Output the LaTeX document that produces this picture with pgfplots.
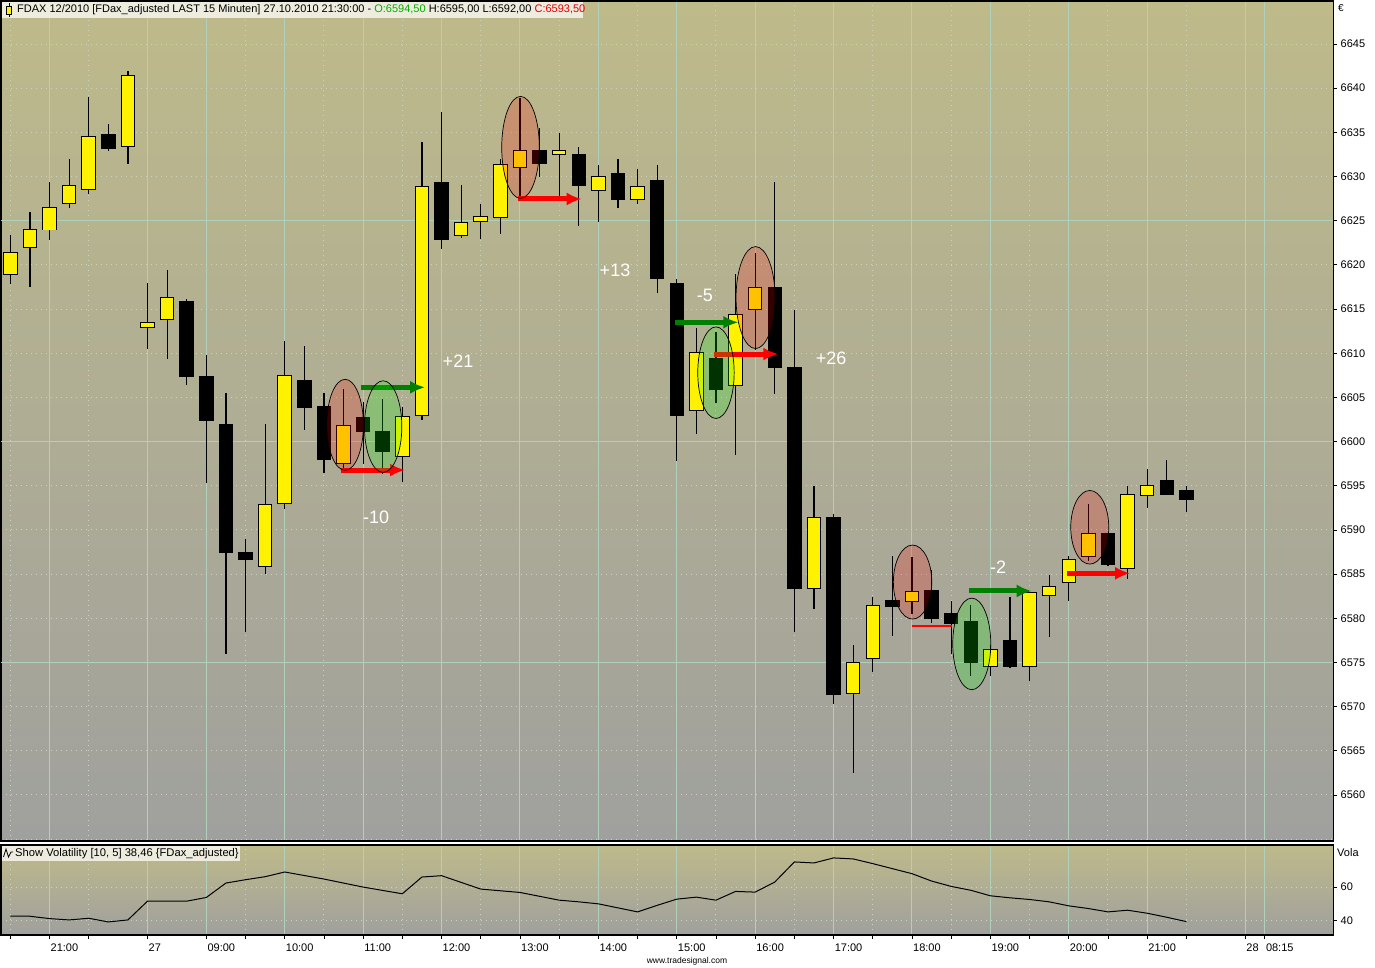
\documentclass[border=0pt]{standalone}
\usepackage{pgfplots}
\pgfplotsset{compat=1.18}
\usepackage{pgfplotstable}
\usepackage{fontspec}
\setmainfont{Liberation Sans}
\usetikzlibrary{arrows.meta}

\definecolor{bgtop}{RGB}{190,186,138}
\definecolor{bgbot}{RGB}{160,160,158}
\definecolor{gridc}{RGB}{176,208,188}
\definecolor{dotc}{RGB}{200,212,192}
\definecolor{hdrbg}{RGB}{238,236,222}
\definecolor{arrgreen}{RGB}{0,128,0}
\definecolor{hdrgreen}{RGB}{0,176,0}
\definecolor{hdrred}{RGB}{230,0,0}

\newcommand\fs[1]{\fontsize{#1}{#1}\selectfont}

% 15 min candles, index 0 = 20:30 on 26.10.
\pgfplotstableread{
i o h l c
0 6619 6623.5 6618 6621.5
1 6622 6626 6617.5 6624
2 6624 6629.5 6623 6626.5
3 6627 6632 6626.5 6629
4 6628.5 6639 6628 6634.5
5 6635 6636 6633 6633.4
6 6633.5 6642 6631.5 6641.5
7 6613 6618 6610.5 6613.6
8 6614 6619.5 6609.5 6616.5
9 6616 6616.2 6606.5 6607.5
10 6607.5 6610 6595.5 6602.5
11 6602 6605.5 6576 6587.5
12 6587.5 6589 6578.5 6586.7
13 6586 6602 6585 6593
14 6593 6611.5 6592.5 6607.5
15 6607 6611 6601.5 6604
16 6604 6605.5 6596.5 6598
17 6597.7 6606 6597 6602
18 6602.7 6604.5 6597.5 6601.1
19 6601.2 6605 6596.5 6599
20 6598.5 6604 6595.5 6603
21 6603 6634 6602.5 6629
22 6629.5 6637.5 6622 6623
23 6623.5 6629 6623 6625
24 6625 6627 6623 6625.5
25 6625.5 6632 6623.5 6631.5
26 6631 6639 6627.5 6633
27 6633 6635.5 6630 6631.5
28 6632.5 6635 6627.5 6633
29 6632.5 6633.5 6624.5 6629
30 6628.5 6631.5 6625 6630
31 6630.5 6632 6626.5 6627.5
32 6627.5 6631 6627 6629
33 6629.5 6631.5 6617 6618.5
34 6618 6618.5 6598 6603
35 6603.5 6613 6601 6610
36 6609.5 6612.5 6604.5 6606
37 6606.5 6619 6598.5 6614.5
38 6615 6621.5 6610.5 6617.5
39 6617.5 6629.5 6605.5 6608.5
40 6608.5 6615 6578.5 6583.5
41 6583.5 6595 6581 6591.5
42 6591.5 6592 6570.5 6571.5
43 6571.5 6577 6562.5 6575
44 6575.5 6582.5 6574 6581.5
45 6582.2 6587 6578 6581.5
46 6582 6587 6580.5 6583.1
47 6583.2 6585.5 6579.5 6580
48 6580.7 6582 6576 6579.6
49 6579.7 6581.5 6573.5 6575
50 6574.6 6577 6573.5 6576.6
51 6577.5 6582.5 6574.5 6574.6
52 6574.6 6583.1 6573 6583
53 6582.6 6585 6578 6583.6
54 6584.1 6587 6582 6586.7
55 6587.1 6593 6586.5 6589.6
56 6589.6 6589.8 6586 6586.1
57 6585.7 6595 6584.5 6594.1
58 6594.1 6597 6592.5 6595.2
59 6595.6 6598 6594 6594.1
60 6594.5 6595 6592 6593.5
}\candles

\pgfplotstableread{
i v
0 42.6
1 42.6
2 41.2
3 40.4
4 41.4
5 39.2
6 40.4
7 51.6
8 51.6
9 51.6
10 53.8
11 62.4
12 64.4
13 66.2
14 69.0
15 66.9
16 64.8
17 62.4
18 60.0
19 58.0
20 56.0
21 66.0
22 66.8
23 62.8
24 58.8
25 57.8
26 56.8
27 54.5
28 52.2
29 51.2
30 50.0
31 47.6
32 45.2
33 49.1
34 52.8
35 54.0
36 52.2
37 57.4
38 57.0
39 63.0
40 75.0
41 74.4
42 77.4
43 76.8
44 74.0
45 71.0
46 68.0
47 63.6
48 60.4
49 58.1
50 54.8
51 53.6
52 52.6
53 51.2
54 48.8
55 47.2
56 45.2
57 46.2
58 44.4
59 42.0
60 39.4
}\vola

\pgfplotsset{
  panel/.style={
    scale only axis, width=1332pt,
    xmin=-0.4745, xmax=67.485,
    axis background/.style={shade, top color=bgtop, bottom color=bgbot},
    axis line style={black, line width=1.2pt},
    tick align=outside, major tick length=4pt,
    tick style={black, line width=0.8pt},
    xtick={2,7,10,14,18,22,26,30,34,38,42,46,50,54,58,63,64},
    minor xtick={0,4,12,16,20,24,28,32,36,40,44,48,52,56,60},
    xmajorgrids, xminorgrids, yminorgrids,
    major grid style={gridc, solid, line width=1pt},
    minor grid style={dotc, line width=1pt, dash pattern=on 1pt off 4pt},
    ytick pos=right, yticklabel pos=right, xtick pos=bottom,
    ticklabel style={font=\fs{11}, black},
    /pgf/number format/assume math mode=true,
    /pgf/number format/1000 sep={},
  },
  candle/.style={draw=none, mark=none, forget plot,
    error bars/.cd, y dir=both, y explicit, error mark=none},
}

\begin{document}
\begin{tikzpicture}[x=1pt,y=1pt]
\path[use as bounding box] (0,0) rectangle (1375,-967);
\fill[white] (0,0) rectangle (1375,-967);

% price panel
\begin{axis}[panel, at={(1pt,-1pt)}, anchor=north west, height=840pt,
  ymin=6554.79, ymax=6649.87,
  minor tick length=0pt,
  xtick style={draw=none}, xticklabels={},
  ytick={6560,6565,...,6645},
  minor ytick={6555,6560,...,6645},
  extra y ticks={6575,6600,6625}, extra y tick labels={},
  extra y tick style={grid=major, major grid style={gridc, solid, line width=1pt}},
]
% wicks
\addplot[candle, error bar style={draw=black, solid, line width=1.2pt}]
  table[x=i, y expr={(\thisrow{h}+\thisrow{l})/2}, y error expr={(\thisrow{h}-\thisrow{l})/2}] {\candles};
% body outline (and black bodies)
\addplot[candle, error bar style={draw=black, solid, line width=14.5pt}]
  table[x=i, y expr={(\thisrow{o}+\thisrow{c})/2}, y error expr={abs(\thisrow{c}-\thisrow{o})/2+0.0566}] {\candles};
% yellow bodies
\addplot[candle, error bar style={draw=yellow, solid, line width=12.5pt}]
  table[x=i, y expr={(\thisrow{o}+\thisrow{c})/2}, y error expr={max((\thisrow{c}-\thisrow{o})/2-0.0566,0)}] {\candles};

% arrows
\draw[arrgreen, line width=5pt, -{Latex[length=15pt,width=13pt]}] (axis cs:17.89,6606.14) -- (axis cs:21.16,6606.14);
\draw[red, line width=5pt, -{Latex[length=15pt,width=13pt]}] (axis cs:16.87,6596.78) -- (axis cs:20.14,6596.78);
\draw[red, line width=5pt, -{Latex[length=15pt,width=13pt]}] (axis cs:25.92,6627.46) -- (axis cs:29.15,6627.46);
\draw[arrgreen, line width=5pt, -{Latex[length=15pt,width=13pt]}] (axis cs:33.91,6613.5) -- (axis cs:37.14,6613.5);
\draw[red, line width=5pt, -{Latex[length=15pt,width=13pt]}] (axis cs:35.90,6609.91) -- (axis cs:39.18,6609.91);
\draw[red, line width=2pt] (axis cs:46.01,6579.16) -- (axis cs:48.03,6579.16);
\draw[arrgreen, line width=5pt, -{Latex[length=15pt,width=13pt]}] (axis cs:48.93,6583.09) -- (axis cs:52.11,6583.09);
\draw[red, line width=5pt, -{Latex[length=15pt,width=13pt]}] (axis cs:53.93,6585.09) -- (axis cs:57.13,6585.09);

% highlight ellipses
\draw[fill=red, fill opacity=0.2, draw=black, line width=0.7pt] (axis cs:17.08,6601.9) ellipse [x radius=18.3pt, y radius=45.5pt];
\draw[fill=red, fill opacity=0.2, draw=black, line width=0.7pt] (axis cs:26.03,6633.3) ellipse [x radius=18.8pt, y radius=51pt];
\draw[fill=red, fill opacity=0.2, draw=black, line width=0.7pt] (axis cs:38.02,6616.3) ellipse [x radius=19.5pt, y radius=51pt];
\draw[fill=red, fill opacity=0.2, draw=black, line width=0.7pt] (axis cs:46.03,6584.1) ellipse [x radius=19.2pt, y radius=37pt];
\draw[fill=red, fill opacity=0.2, draw=black, line width=0.7pt] (axis cs:55.07,6590.3) ellipse [x radius=19pt, y radius=36.8pt];
\draw[fill=green, fill opacity=0.2, draw=black, line width=0.7pt] (axis cs:19.02,6601.7) ellipse [x radius=18.7pt, y radius=45.8pt];
\draw[fill=green, fill opacity=0.2, draw=black, line width=0.7pt] (axis cs:36.0,6607.8) ellipse [x radius=18.2pt, y radius=45.8pt];
\draw[fill=green, fill opacity=0.2, draw=black, line width=0.7pt] (axis cs:49.05,6577.1) ellipse [x radius=19pt, y radius=45.8pt];

% results
\node[white, font=\fs{18}] at (axis cs:22.84,6609.12) {+21};
\node[white, font=\fs{18}] at (axis cs:18.66,6591.46) {-10};
\node[white, font=\fs{18}] at (axis cs:30.85,6619.42) {+13};
\node[white, font=\fs{18}] at (axis cs:35.44,6616.59) {-5};
\node[white, font=\fs{18}] at (axis cs:41.87,6609.46) {+26};
\node[white, font=\fs{18}] at (axis cs:50.39,6585.8) {-2};
\end{axis}

% volatility panel
\begin{axis}[panel, at={(1pt,-845pt)}, anchor=north west, height=90pt,
  ymin=31.4, ymax=85.1,
  minor tick length=4pt,
  xticklabels={21:00,27,09:00,10:00,11:00,12:00,13:00,14:00,15:00,16:00,17:00,18:00,19:00,20:00,21:00,28,08:15},
  xticklabel style={anchor=north west, inner sep=0pt, xshift=1pt, yshift=-5pt},
  ytick={40,60}, minor ytick={40,60},
]
\addplot[black, line width=1pt] table[x=i, y=v] {\vola};
\end{axis}

% header
\fill[hdrbg] (2,-2) rectangle (583,-18);
\draw[black, line width=0.8pt] (9,-3) -- (9,-17);
\filldraw[fill=yellow, draw=black, line width=0.8pt] (6.5,-6) rectangle (11.5,-14);
\node[anchor=west, inner sep=0pt, font=\fs{11}] at (17,-10)
  {FDAX 12/2010 [FDax\_adjusted LAST 15 Minuten] 27.10.2010 21:30:00 - \textcolor{hdrgreen}{O:6594,50} H:6595,00 L:6592,00 \textcolor{hdrred}{C:6593,50}};
\node[anchor=west, inner sep=0pt, font=\fs{10}] at (1338,-8) {€};

\fill[hdrbg] (2,-846) rectangle (240,-861);
\draw[black, line width=0.8pt] (3.5,-857) -- (6,-849) -- (8.5,-857) -- (11,-852) -- (13,-852);
\node[anchor=west, inner sep=0pt, font=\fs{11.2}] at (15,-853.5)
  {Show Volatility [10, 5] 38,46 \{FDax\_adjusted\}};
\node[anchor=west, inner sep=0pt, font=\fs{11}] at (1337,-853) {Vola};
\node[font=\fs{8.5}] at (687,-961) {www.tradesignal.com};
\end{tikzpicture}
\end{document}
